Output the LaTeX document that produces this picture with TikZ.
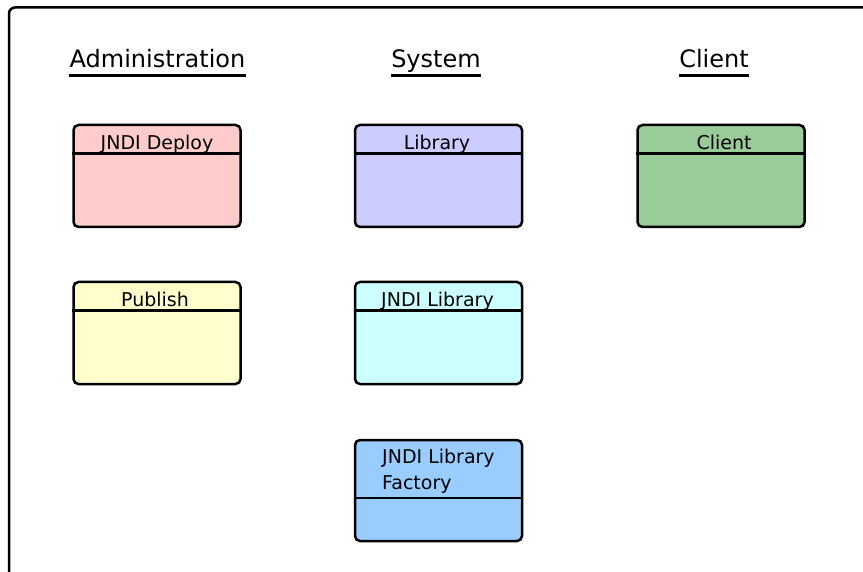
\documentclass[tikz,border=0pt]{standalone}
\usepackage{fontspec}
\setmainfont{DejaVu Sans}
\definecolor{deploycol}{HTML}{FFCCCC}
\definecolor{publishcol}{HTML}{FFFFCC}
\definecolor{librarycol}{HTML}{CCCCFF}
\definecolor{jndilibcol}{HTML}{CCFFFF}
\definecolor{factorycol}{HTML}{99CCFF}
\definecolor{clientcol}{HTML}{99CC99}
\tikzset{
  classbox/.style={draw, line width=2.5pt, rounded corners=5pt, minimum width=167pt, minimum height=102pt, inner sep=0pt},
  classname/.style={font=\fontsize{19}{26}\selectfont, inner sep=0pt, anchor=base},
  group/.style={font=\fontsize{24}{28}\selectfont, inner sep=0pt, anchor=base},
  underln/.style={line width=2.5pt},
  divider/.style={line width=2.5pt}
}
\begin{document}
\begin{tikzpicture}[x=1pt, y=-1pt]
\useasboundingbox (0,0) rectangle (863,572);
\fill[white] (0,0) rectangle (863,572);

% outer frame
\draw[line width=2.5pt, rounded corners=6pt] (9,572) |- (863,7.5);

% column titles
\node[group] (admin) at (157.5,68) {Administration};
\node[group] (system) at (436,68) {System};
\node[group] (clienttitle) at (714,68) {Client};
\draw[underln] (admin.west |- 0,75.5) -- (admin.east |- 0,75.5);
\draw[underln] (system.west |- 0,75.5) -- (system.east |- 0,75.5);
\draw[underln] (clienttitle.west |- 0,75.5) -- (clienttitle.east |- 0,75.5);

% classes
\node[classbox, fill=deploycol] (deploy) at (157,176) {};
\node[classbox, fill=librarycol] (library) at (438.5,176) {};
\node[classbox, fill=clientcol] (client) at (721,176) {};
\node[classbox, fill=publishcol] (publish) at (157,333) {};
\node[classbox, fill=jndilibcol] (jndilib) at (438.5,333) {};
\node[classbox, fill=factorycol, minimum height=101pt] (factory) at (438.5,490.5) {};

\node[classname] at (157,150) {JNDI Deploy};
\node[classname] at (437,150) {Library};
\node[classname] at (724,150) {Client};
\node[classname] at (155,307) {Publish};
\node[classname] at (437.5,307) {JNDI Library};
\node[classname, align=left, anchor=north west] at (382,448.5) {JNDI Library\\Factory};

\draw[divider] ([yshift=-30pt]deploy.north west) -- ([yshift=-30pt]deploy.north east);
\draw[divider] ([yshift=-30pt]library.north west) -- ([yshift=-30pt]library.north east);
\draw[divider] ([yshift=-30pt]client.north west) -- ([yshift=-30pt]client.north east);
\draw[divider] ([yshift=-30pt]publish.north west) -- ([yshift=-30pt]publish.north east);
\draw[divider] ([yshift=-30pt]jndilib.north west) -- ([yshift=-30pt]jndilib.north east);
\draw[divider] ([yshift=-59pt]factory.north west) -- ([yshift=-59pt]factory.north east);
\end{tikzpicture}
\end{document}
